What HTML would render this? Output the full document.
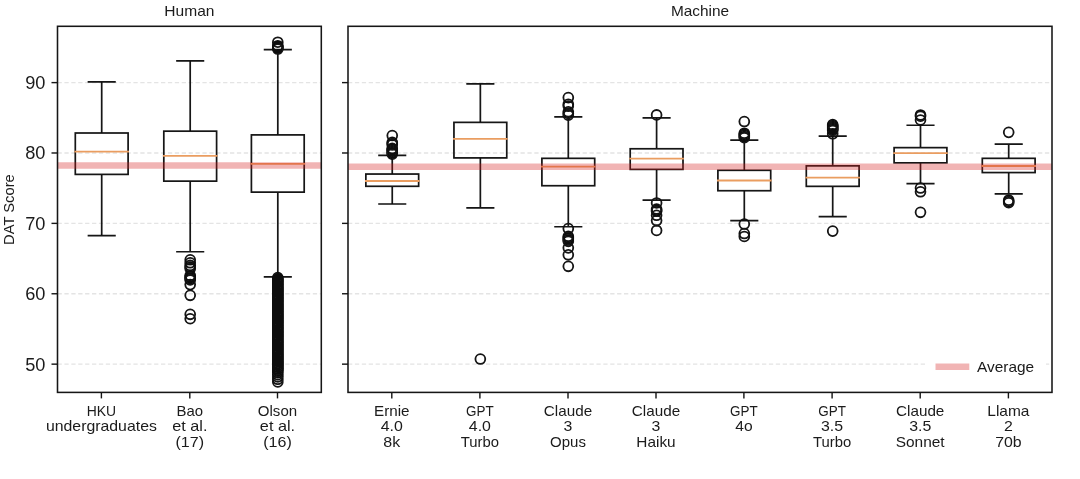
<!DOCTYPE html>
<html>
<head>
<meta charset="utf-8">
<title>DAT Score boxplot</title>
<style>
html,body{margin:0;padding:0;background:#fff;}
body{width:1080px;height:479px;overflow:hidden;}
svg{display:block;will-change:transform;}
text{font-family:"Liberation Sans",sans-serif;fill:#1a1a1a;}
</style>
</head>
<body>
<svg width="1080" height="479" viewBox="0 0 1080 479">
<defs><filter id="soft" x="0" y="0" width="100%" height="100%" filterUnits="objectBoundingBox"><feGaussianBlur stdDeviation="0.38"/></filter></defs>
<g filter="url(#soft)">
<rect x="0" y="0" width="1080" height="479" fill="#ffffff"/>
<line x1="57.5" x2="321.3" y1="364.15" y2="364.15" stroke="#e4e4e4" stroke-width="1.3" stroke-dasharray="4.3 2.6"/>
<line x1="57.5" x2="321.3" y1="293.76" y2="293.76" stroke="#e4e4e4" stroke-width="1.3" stroke-dasharray="4.3 2.6"/>
<line x1="57.5" x2="321.3" y1="223.38" y2="223.38" stroke="#e4e4e4" stroke-width="1.3" stroke-dasharray="4.3 2.6"/>
<line x1="57.5" x2="321.3" y1="152.99" y2="152.99" stroke="#e4e4e4" stroke-width="1.3" stroke-dasharray="4.3 2.6"/>
<line x1="57.5" x2="321.3" y1="82.61" y2="82.61" stroke="#e4e4e4" stroke-width="1.3" stroke-dasharray="4.3 2.6"/>
<g stroke="#121212" stroke-width="1.7" fill="none"><path d="M101.7 133V81.9M101.7 174.39V235.69"/><path d="M88.5 81.9H114.9M88.5 235.69H114.9" stroke-linecap="square"/><rect x="75.3" y="133" width="52.8" height="41.39"/></g>
<line x1="75.3" x2="128.1" y1="151.58" y2="151.58" stroke="#ea9d60" stroke-width="1.8" stroke-linecap="square"/>
<line x1="101.4" x2="101.4" y1="392.4" y2="398.4" stroke="#121212" stroke-width="1.4"/>
<text x="101.4" y="415.7" font-size="13.9" text-anchor="middle" textLength="29.37" lengthAdjust="spacingAndGlyphs">HKU</text>
<text x="101.4" y="430.9" font-size="13.9" text-anchor="middle" textLength="110.92" lengthAdjust="spacingAndGlyphs">undergraduates</text>
<g stroke="#121212" stroke-width="1.7" fill="none"><path d="M190.2 131.17V60.86M190.2 181.15V251.74"/><path d="M177 60.86H203.4M177 251.74H203.4" stroke-linecap="square"/><rect x="163.8" y="131.17" width="52.8" height="49.97"/></g>
<line x1="163.8" x2="216.6" y1="155.81" y2="155.81" stroke="#ea9d60" stroke-width="1.8" stroke-linecap="square"/>
<g stroke="#121212" stroke-width="1.8" fill="none"><circle cx="190.2" cy="259.77" r="4.92"/><circle cx="190.2" cy="262.79" r="4.92"/><circle cx="190.2" cy="265.4" r="4.92"/><circle cx="190.2" cy="267.01" r="4.92"/><circle cx="190.2" cy="268.63" r="4.92"/><circle cx="190.2" cy="275.46" r="4.92"/><circle cx="190.2" cy="276.52" r="4.92"/><circle cx="190.2" cy="277.57" r="4.92"/><circle cx="190.2" cy="278.77" r="4.92"/><circle cx="190.2" cy="279.9" r="4.92"/><circle cx="190.2" cy="284.61" r="4.92"/><circle cx="190.2" cy="295.31" r="4.92"/><circle cx="190.2" cy="314.31" r="4.92"/><circle cx="190.2" cy="318.75" r="4.92"/></g>
<line x1="189.8" x2="189.8" y1="392.4" y2="398.4" stroke="#121212" stroke-width="1.4"/>
<text x="189.8" y="415.7" font-size="13.9" text-anchor="middle" textLength="26.56" lengthAdjust="spacingAndGlyphs">Bao</text>
<text x="189.8" y="430.9" font-size="13.9" text-anchor="middle" textLength="35.22" lengthAdjust="spacingAndGlyphs">et al.</text>
<text x="189.8" y="447.2" font-size="13.9" text-anchor="middle" textLength="28.53" lengthAdjust="spacingAndGlyphs">(17)</text>
<g stroke="#121212" stroke-width="1.7" fill="none"><path d="M277.8 134.9V49.53M277.8 192.13V276.87"/><path d="M264.6 49.53H291M264.6 276.87H291" stroke-linecap="square"/><rect x="251.4" y="134.9" width="52.8" height="57.22"/></g>
<line x1="251.4" x2="304.2" y1="163.83" y2="163.83" stroke="#ea9d60" stroke-width="1.8" stroke-linecap="square"/>
<g stroke="#121212" stroke-width="1.8" fill="none"><circle cx="277.8" cy="42.21" r="4.92"/><circle cx="277.8" cy="45.72" r="4.92"/><circle cx="277.8" cy="46.5" r="4.92"/><circle cx="277.8" cy="47.27" r="4.92"/><circle cx="277.8" cy="48.12" r="4.92"/><circle cx="277.8" cy="49.03" r="4.92"/><circle cx="277.8" cy="277.57" r="4.92"/><circle cx="277.8" cy="278.5" r="4.92"/><circle cx="277.8" cy="279.44" r="4.92"/><circle cx="277.8" cy="280.37" r="4.92"/><circle cx="277.8" cy="281.3" r="4.92"/><circle cx="277.8" cy="282.23" r="4.92"/><circle cx="277.8" cy="283.16" r="4.92"/><circle cx="277.8" cy="284.09" r="4.92"/><circle cx="277.8" cy="285.02" r="4.92"/><circle cx="277.8" cy="285.95" r="4.92"/><circle cx="277.8" cy="286.89" r="4.92"/><circle cx="277.8" cy="287.82" r="4.92"/><circle cx="277.8" cy="288.75" r="4.92"/><circle cx="277.8" cy="289.68" r="4.92"/><circle cx="277.8" cy="290.61" r="4.92"/><circle cx="277.8" cy="291.54" r="4.92"/><circle cx="277.8" cy="292.47" r="4.92"/><circle cx="277.8" cy="293.41" r="4.92"/><circle cx="277.8" cy="294.34" r="4.92"/><circle cx="277.8" cy="295.27" r="4.92"/><circle cx="277.8" cy="296.2" r="4.92"/><circle cx="277.8" cy="297.13" r="4.92"/><circle cx="277.8" cy="298.06" r="4.92"/><circle cx="277.8" cy="298.99" r="4.92"/><circle cx="277.8" cy="299.93" r="4.92"/><circle cx="277.8" cy="300.86" r="4.92"/><circle cx="277.8" cy="301.79" r="4.92"/><circle cx="277.8" cy="302.72" r="4.92"/><circle cx="277.8" cy="303.65" r="4.92"/><circle cx="277.8" cy="304.58" r="4.92"/><circle cx="277.8" cy="305.51" r="4.92"/><circle cx="277.8" cy="306.44" r="4.92"/><circle cx="277.8" cy="307.38" r="4.92"/><circle cx="277.8" cy="308.31" r="4.92"/><circle cx="277.8" cy="309.24" r="4.92"/><circle cx="277.8" cy="310.17" r="4.92"/><circle cx="277.8" cy="311.1" r="4.92"/><circle cx="277.8" cy="312.03" r="4.92"/><circle cx="277.8" cy="312.96" r="4.92"/><circle cx="277.8" cy="313.9" r="4.92"/><circle cx="277.8" cy="314.83" r="4.92"/><circle cx="277.8" cy="315.76" r="4.92"/><circle cx="277.8" cy="316.69" r="4.92"/><circle cx="277.8" cy="317.62" r="4.92"/><circle cx="277.8" cy="318.55" r="4.92"/><circle cx="277.8" cy="319.48" r="4.92"/><circle cx="277.8" cy="320.41" r="4.92"/><circle cx="277.8" cy="321.35" r="4.92"/><circle cx="277.8" cy="322.28" r="4.92"/><circle cx="277.8" cy="323.21" r="4.92"/><circle cx="277.8" cy="324.14" r="4.92"/><circle cx="277.8" cy="325.07" r="4.92"/><circle cx="277.8" cy="326" r="4.92"/><circle cx="277.8" cy="326.93" r="4.92"/><circle cx="277.8" cy="327.87" r="4.92"/><circle cx="277.8" cy="328.8" r="4.92"/><circle cx="277.8" cy="329.73" r="4.92"/><circle cx="277.8" cy="330.66" r="4.92"/><circle cx="277.8" cy="331.59" r="4.92"/><circle cx="277.8" cy="332.52" r="4.92"/><circle cx="277.8" cy="333.45" r="4.92"/><circle cx="277.8" cy="334.39" r="4.92"/><circle cx="277.8" cy="335.32" r="4.92"/><circle cx="277.8" cy="336.25" r="4.92"/><circle cx="277.8" cy="337.18" r="4.92"/><circle cx="277.8" cy="338.11" r="4.92"/><circle cx="277.8" cy="339.04" r="4.92"/><circle cx="277.8" cy="339.97" r="4.92"/><circle cx="277.8" cy="340.9" r="4.92"/><circle cx="277.8" cy="341.84" r="4.92"/><circle cx="277.8" cy="342.77" r="4.92"/><circle cx="277.8" cy="343.7" r="4.92"/><circle cx="277.8" cy="344.63" r="4.92"/><circle cx="277.8" cy="345.56" r="4.92"/><circle cx="277.8" cy="346.49" r="4.92"/><circle cx="277.8" cy="347.42" r="4.92"/><circle cx="277.8" cy="348.36" r="4.92"/><circle cx="277.8" cy="349.29" r="4.92"/><circle cx="277.8" cy="350.22" r="4.92"/><circle cx="277.8" cy="351.15" r="4.92"/><circle cx="277.8" cy="352.08" r="4.92"/><circle cx="277.8" cy="353.01" r="4.92"/><circle cx="277.8" cy="353.94" r="4.92"/><circle cx="277.8" cy="354.88" r="4.92"/><circle cx="277.8" cy="355.81" r="4.92"/><circle cx="277.8" cy="356.74" r="4.92"/><circle cx="277.8" cy="357.67" r="4.92"/><circle cx="277.8" cy="358.6" r="4.92"/><circle cx="277.8" cy="359.53" r="4.92"/><circle cx="277.8" cy="360.46" r="4.92"/><circle cx="277.8" cy="361.39" r="4.92"/><circle cx="277.8" cy="362.33" r="4.92"/><circle cx="277.8" cy="363.26" r="4.92"/><circle cx="277.8" cy="364.19" r="4.92"/><circle cx="277.8" cy="365.12" r="4.92"/><circle cx="277.8" cy="366.05" r="4.92"/><circle cx="277.8" cy="366.98" r="4.92"/><circle cx="277.8" cy="367.91" r="4.92"/><circle cx="277.8" cy="368.85" r="4.92"/><circle cx="277.8" cy="369.78" r="4.92"/><circle cx="277.8" cy="370.83" r="4.92"/><circle cx="277.8" cy="372.59" r="4.92"/><circle cx="277.8" cy="374.7" r="4.92"/><circle cx="277.8" cy="376.82" r="4.92"/><circle cx="277.8" cy="379.28" r="4.92"/><circle cx="277.8" cy="381.88" r="4.92"/></g>
<line x1="277.5" x2="277.5" y1="392.4" y2="398.4" stroke="#121212" stroke-width="1.4"/>
<text x="277.5" y="415.7" font-size="13.9" text-anchor="middle" textLength="39.36" lengthAdjust="spacingAndGlyphs">Olson</text>
<text x="277.5" y="430.9" font-size="13.9" text-anchor="middle" textLength="35.22" lengthAdjust="spacingAndGlyphs">et al.</text>
<text x="277.5" y="447.2" font-size="13.9" text-anchor="middle" textLength="28.53" lengthAdjust="spacingAndGlyphs">(16)</text>
<line x1="57.5" x2="321.3" y1="165.45" y2="165.45" stroke="rgb(214,39,40)" stroke-opacity="0.35" stroke-width="6.5"/>
<line x1="51.5" x2="57.5" y1="364.15" y2="364.15" stroke="#121212" stroke-width="1.4"/>
<text x="45.5" y="370.55" font-size="18.2" text-anchor="end" textLength="20.24" lengthAdjust="spacingAndGlyphs">50</text>
<line x1="51.5" x2="57.5" y1="293.76" y2="293.76" stroke="#121212" stroke-width="1.4"/>
<text x="45.5" y="300.16" font-size="18.2" text-anchor="end" textLength="20.24" lengthAdjust="spacingAndGlyphs">60</text>
<line x1="51.5" x2="57.5" y1="223.38" y2="223.38" stroke="#121212" stroke-width="1.4"/>
<text x="45.5" y="229.78" font-size="18.2" text-anchor="end" textLength="20.24" lengthAdjust="spacingAndGlyphs">70</text>
<line x1="51.5" x2="57.5" y1="152.99" y2="152.99" stroke="#121212" stroke-width="1.4"/>
<text x="45.5" y="159.39" font-size="18.2" text-anchor="end" textLength="20.24" lengthAdjust="spacingAndGlyphs">80</text>
<line x1="51.5" x2="57.5" y1="82.61" y2="82.61" stroke="#121212" stroke-width="1.4"/>
<text x="45.5" y="89.01" font-size="18.2" text-anchor="end" textLength="20.24" lengthAdjust="spacingAndGlyphs">90</text>
<rect x="57.5" y="26.3" width="263.8" height="366.1" fill="none" stroke="#151515" stroke-width="1.55"/>
<line x1="348" x2="1052" y1="364.15" y2="364.15" stroke="#e4e4e4" stroke-width="1.3" stroke-dasharray="4.3 2.6"/>
<line x1="348" x2="1052" y1="293.76" y2="293.76" stroke="#e4e4e4" stroke-width="1.3" stroke-dasharray="4.3 2.6"/>
<line x1="348" x2="1052" y1="223.38" y2="223.38" stroke="#e4e4e4" stroke-width="1.3" stroke-dasharray="4.3 2.6"/>
<line x1="348" x2="1052" y1="152.99" y2="152.99" stroke="#e4e4e4" stroke-width="1.3" stroke-dasharray="4.3 2.6"/>
<line x1="348" x2="1052" y1="82.61" y2="82.61" stroke="#e4e4e4" stroke-width="1.3" stroke-dasharray="4.3 2.6"/>
<g stroke="#121212" stroke-width="1.7" fill="none"><path d="M392.25 174.04V155.31M392.25 186.28V204.02"/><path d="M379.05 155.31H405.45M379.05 204.02H405.45" stroke-linecap="square"/><rect x="365.85" y="174.04" width="52.8" height="12.25"/></g>
<line x1="365.85" x2="418.65" y1="181" y2="181" stroke="#ea9d60" stroke-width="1.8" stroke-linecap="square"/>
<g stroke="#121212" stroke-width="1.8" fill="none"><circle cx="392.25" cy="135.54" r="4.92"/><circle cx="392.25" cy="142.29" r="4.92"/><circle cx="392.25" cy="143.49" r="4.92"/><circle cx="392.25" cy="144.83" r="4.92"/><circle cx="392.25" cy="148.42" r="4.92"/><circle cx="392.25" cy="149.33" r="4.92"/><circle cx="392.25" cy="150.18" r="4.92"/><circle cx="392.25" cy="151.23" r="4.92"/><circle cx="392.25" cy="152.29" r="4.92"/><circle cx="392.25" cy="153.34" r="4.92"/><circle cx="392.25" cy="154.12" r="4.92"/></g>
<line x1="391.8" x2="391.8" y1="392.4" y2="398.4" stroke="#121212" stroke-width="1.4"/>
<text x="391.8" y="415.7" font-size="13.9" text-anchor="middle" textLength="35.48" lengthAdjust="spacingAndGlyphs">Ernie</text>
<text x="391.8" y="430.9" font-size="13.9" text-anchor="middle" textLength="22.11" lengthAdjust="spacingAndGlyphs">4.0</text>
<text x="391.8" y="447.2" font-size="13.9" text-anchor="middle" textLength="16.89" lengthAdjust="spacingAndGlyphs">8k</text>
<g stroke="#121212" stroke-width="1.7" fill="none"><path d="M480.35 122.37V83.8M480.35 157.92V207.89"/><path d="M467.15 83.8H493.55M467.15 207.89H493.55" stroke-linecap="square"/><rect x="453.95" y="122.37" width="52.8" height="35.54"/></g>
<line x1="453.95" x2="506.75" y1="138.91" y2="138.91" stroke="#ea9d60" stroke-width="1.8" stroke-linecap="square"/>
<g stroke="#121212" stroke-width="1.8" fill="none"><circle cx="480.35" cy="359.01" r="4.92"/></g>
<line x1="479.9" x2="479.9" y1="392.4" y2="398.4" stroke="#121212" stroke-width="1.4"/>
<text x="479.9" y="415.7" font-size="13.9" text-anchor="middle" textLength="27.64" lengthAdjust="spacingAndGlyphs">GPT</text>
<text x="479.9" y="430.9" font-size="13.9" text-anchor="middle" textLength="22.11" lengthAdjust="spacingAndGlyphs">4.0</text>
<text x="479.9" y="447.2" font-size="13.9" text-anchor="middle" textLength="38.23" lengthAdjust="spacingAndGlyphs">Turbo</text>
<g stroke="#121212" stroke-width="1.7" fill="none"><path d="M568.3 158.34V116.95M568.3 185.72V226.75"/><path d="M555.1 116.95H581.5M555.1 226.75H581.5" stroke-linecap="square"/><rect x="541.9" y="158.34" width="52.8" height="27.38"/></g>
<line x1="541.9" x2="594.7" y1="166.72" y2="166.72" stroke="#ea9d60" stroke-width="1.8" stroke-linecap="square"/>
<g stroke="#121212" stroke-width="1.8" fill="none"><circle cx="568.3" cy="97.56" r="4.92"/><circle cx="568.3" cy="104.21" r="4.92"/><circle cx="568.3" cy="106.11" r="4.92"/><circle cx="568.3" cy="111.75" r="4.92"/><circle cx="568.3" cy="113.43" r="4.92"/><circle cx="568.3" cy="115.19" r="4.92"/><circle cx="568.3" cy="228.58" r="4.92"/><circle cx="568.3" cy="236.33" r="4.92"/><circle cx="568.3" cy="237.52" r="4.92"/><circle cx="568.3" cy="238.72" r="4.92"/><circle cx="568.3" cy="239.99" r="4.92"/><circle cx="568.3" cy="241.32" r="4.92"/><circle cx="568.3" cy="247.87" r="4.92"/><circle cx="568.3" cy="254.84" r="4.92"/><circle cx="568.3" cy="266.31" r="4.92"/></g>
<line x1="568" x2="568" y1="392.4" y2="398.4" stroke="#121212" stroke-width="1.4"/>
<text x="568" y="415.7" font-size="13.9" text-anchor="middle" textLength="48.27" lengthAdjust="spacingAndGlyphs">Claude</text>
<text x="568" y="430.9" font-size="13.9" text-anchor="middle" textLength="8.84" lengthAdjust="spacingAndGlyphs">3</text>
<text x="568" y="447.2" font-size="13.9" text-anchor="middle" textLength="35.82" lengthAdjust="spacingAndGlyphs">Opus</text>
<g stroke="#121212" stroke-width="1.7" fill="none"><path d="M656.6 148.77V117.87M656.6 169.39V200.22"/><path d="M643.4 117.87H669.8M643.4 200.22H669.8" stroke-linecap="square"/><rect x="630.2" y="148.77" width="52.8" height="20.62"/></g>
<line x1="630.2" x2="683" y1="158.55" y2="158.55" stroke="#ea9d60" stroke-width="1.8" stroke-linecap="square"/>
<g stroke="#121212" stroke-width="1.8" fill="none"><circle cx="656.6" cy="114.91" r="4.92"/><circle cx="656.6" cy="202.96" r="4.92"/><circle cx="656.6" cy="209.02" r="4.92"/><circle cx="656.6" cy="210.28" r="4.92"/><circle cx="656.6" cy="211.27" r="4.92"/><circle cx="656.6" cy="215.28" r="4.92"/><circle cx="656.6" cy="220.56" r="4.92"/><circle cx="656.6" cy="230.41" r="4.92"/></g>
<line x1="656" x2="656" y1="392.4" y2="398.4" stroke="#121212" stroke-width="1.4"/>
<text x="656" y="415.7" font-size="13.9" text-anchor="middle" textLength="48.27" lengthAdjust="spacingAndGlyphs">Claude</text>
<text x="656" y="430.9" font-size="13.9" text-anchor="middle" textLength="8.84" lengthAdjust="spacingAndGlyphs">3</text>
<text x="656" y="447.2" font-size="13.9" text-anchor="middle" textLength="39.26" lengthAdjust="spacingAndGlyphs">Haiku</text>
<g stroke="#121212" stroke-width="1.7" fill="none"><path d="M744.3 170.31V140.04M744.3 190.72V220.7"/><path d="M731.1 140.04H757.5M731.1 220.7H757.5" stroke-linecap="square"/><rect x="717.9" y="170.31" width="52.8" height="20.41"/></g>
<line x1="717.9" x2="770.7" y1="180.51" y2="180.51" stroke="#ea9d60" stroke-width="1.8" stroke-linecap="square"/>
<g stroke="#121212" stroke-width="1.8" fill="none"><circle cx="744.3" cy="121.53" r="4.92"/><circle cx="744.3" cy="133.21" r="4.92"/><circle cx="744.3" cy="134.34" r="4.92"/><circle cx="744.3" cy="135.39" r="4.92"/><circle cx="744.3" cy="136.52" r="4.92"/><circle cx="744.3" cy="137.65" r="4.92"/><circle cx="744.3" cy="224.01" r="4.92"/><circle cx="744.3" cy="233.51" r="4.92"/><circle cx="744.3" cy="236.47" r="4.92"/></g>
<line x1="743.9" x2="743.9" y1="392.4" y2="398.4" stroke="#121212" stroke-width="1.4"/>
<text x="743.9" y="415.7" font-size="13.9" text-anchor="middle" textLength="27.64" lengthAdjust="spacingAndGlyphs">GPT</text>
<text x="743.9" y="430.9" font-size="13.9" text-anchor="middle" textLength="17.35" lengthAdjust="spacingAndGlyphs">4o</text>
<g stroke="#121212" stroke-width="1.7" fill="none"><path d="M832.7 165.87V136.03M832.7 186.35V216.55"/><path d="M819.5 136.03H845.9M819.5 216.55H845.9" stroke-linecap="square"/><rect x="806.3" y="165.87" width="52.8" height="20.48"/></g>
<line x1="806.3" x2="859.1" y1="177.56" y2="177.56" stroke="#ea9d60" stroke-width="1.8" stroke-linecap="square"/>
<g stroke="#121212" stroke-width="1.8" fill="none"><circle cx="832.7" cy="124.63" r="4.92"/><circle cx="832.7" cy="125.6" r="4.92"/><circle cx="832.7" cy="126.57" r="4.92"/><circle cx="832.7" cy="127.55" r="4.92"/><circle cx="832.7" cy="128.52" r="4.92"/><circle cx="832.7" cy="129.49" r="4.92"/><circle cx="832.7" cy="130.47" r="4.92"/><circle cx="832.7" cy="133.78" r="4.92"/><circle cx="832.7" cy="231.12" r="4.92"/></g>
<line x1="832.1" x2="832.1" y1="392.4" y2="398.4" stroke="#121212" stroke-width="1.4"/>
<text x="832.1" y="415.7" font-size="13.9" text-anchor="middle" textLength="27.64" lengthAdjust="spacingAndGlyphs">GPT</text>
<text x="832.1" y="430.9" font-size="13.9" text-anchor="middle" textLength="22.11" lengthAdjust="spacingAndGlyphs">3.5</text>
<text x="832.1" y="447.2" font-size="13.9" text-anchor="middle" textLength="38.23" lengthAdjust="spacingAndGlyphs">Turbo</text>
<g stroke="#121212" stroke-width="1.7" fill="none"><path d="M920.5 147.64V125.26M920.5 162.84V183.54"/><path d="M907.3 125.26H933.7M907.3 183.54H933.7" stroke-linecap="square"/><rect x="894.1" y="147.64" width="52.8" height="15.2"/></g>
<line x1="894.1" x2="946.9" y1="153.2" y2="153.2" stroke="#ea9d60" stroke-width="1.8" stroke-linecap="square"/>
<g stroke="#121212" stroke-width="1.8" fill="none"><circle cx="920.5" cy="114.98" r="4.92"/><circle cx="920.5" cy="116.18" r="4.92"/><circle cx="920.5" cy="119.98" r="4.92"/><circle cx="920.5" cy="188.04" r="4.92"/><circle cx="920.5" cy="191.77" r="4.92"/><circle cx="920.5" cy="212.33" r="4.92"/></g>
<line x1="920.2" x2="920.2" y1="392.4" y2="398.4" stroke="#121212" stroke-width="1.4"/>
<text x="920.2" y="415.7" font-size="13.9" text-anchor="middle" textLength="48.27" lengthAdjust="spacingAndGlyphs">Claude</text>
<text x="920.2" y="430.9" font-size="13.9" text-anchor="middle" textLength="22.11" lengthAdjust="spacingAndGlyphs">3.5</text>
<text x="920.2" y="447.2" font-size="13.9" text-anchor="middle" textLength="48.95" lengthAdjust="spacingAndGlyphs">Sonnet</text>
<g stroke="#121212" stroke-width="1.7" fill="none"><path d="M1008.7 158.34V144.05M1008.7 172.56V193.81"/><path d="M995.5 144.05H1021.9M995.5 193.81H1021.9" stroke-linecap="square"/><rect x="982.3" y="158.34" width="52.8" height="14.22"/></g>
<line x1="982.3" x2="1035.1" y1="166.01" y2="166.01" stroke="#ea9d60" stroke-width="1.8" stroke-linecap="square"/>
<g stroke="#121212" stroke-width="1.8" fill="none"><circle cx="1008.7" cy="132.37" r="4.92"/><circle cx="1008.7" cy="200.15" r="4.92"/><circle cx="1008.7" cy="201.49" r="4.92"/><circle cx="1008.7" cy="202.75" r="4.92"/></g>
<line x1="1008.4" x2="1008.4" y1="392.4" y2="398.4" stroke="#121212" stroke-width="1.4"/>
<text x="1008.4" y="415.7" font-size="13.9" text-anchor="middle" textLength="42.18" lengthAdjust="spacingAndGlyphs">Llama</text>
<text x="1008.4" y="430.9" font-size="13.9" text-anchor="middle" textLength="8.84" lengthAdjust="spacingAndGlyphs">2</text>
<text x="1008.4" y="447.2" font-size="13.9" text-anchor="middle" textLength="26.51" lengthAdjust="spacingAndGlyphs">70b</text>
<line x1="348" x2="1052" y1="166.72" y2="166.72" stroke="rgb(214,39,40)" stroke-opacity="0.35" stroke-width="6.5"/>
<line x1="342" x2="348" y1="364.15" y2="364.15" stroke="#121212" stroke-width="1.4"/>
<line x1="342" x2="348" y1="293.76" y2="293.76" stroke="#121212" stroke-width="1.4"/>
<line x1="342" x2="348" y1="223.38" y2="223.38" stroke="#121212" stroke-width="1.4"/>
<line x1="342" x2="348" y1="152.99" y2="152.99" stroke="#121212" stroke-width="1.4"/>
<line x1="342" x2="348" y1="82.61" y2="82.61" stroke="#121212" stroke-width="1.4"/>
<rect x="348" y="26.3" width="704" height="366.1" fill="none" stroke="#151515" stroke-width="1.55"/>
<text x="189.4" y="15.8" font-size="13.9" text-anchor="middle" textLength="50.13" lengthAdjust="spacingAndGlyphs">Human</text>
<text x="700" y="15.8" font-size="13.9" text-anchor="middle" textLength="58.19" lengthAdjust="spacingAndGlyphs">Machine</text>
<g transform="translate(13.8 209.6) rotate(-90)">
<text x="0" y="0" font-size="13.9" text-anchor="middle" textLength="70.73" lengthAdjust="spacingAndGlyphs">DAT Score</text>
</g>
<rect x="926" y="353" width="120" height="32.5" fill="#ffffff"/>
<line x1="935.5" x2="969.3" y1="366.8" y2="366.8" stroke="rgb(214,39,40)" stroke-opacity="0.35" stroke-width="6.5"/>
<text x="977" y="371.6" font-size="13.9" text-anchor="start" textLength="57.08" lengthAdjust="spacingAndGlyphs">Average</text>
</g>
</svg>
</body>
</html>
